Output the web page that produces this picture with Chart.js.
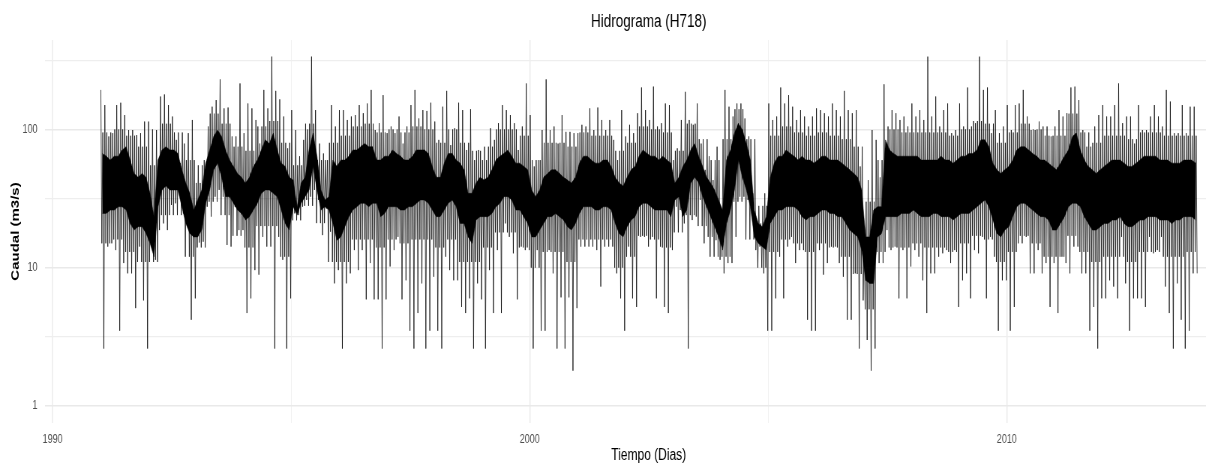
<!DOCTYPE html>
<html>
<head>
<meta charset="utf-8">
<title>Hidrograma (H718)</title>
<script src="https://cdn.jsdelivr.net/npm/chart.js@4.4.1/dist/chart.umd.min.js"></script>
<style>
  html, body { margin: 0; padding: 0; overflow: hidden; background: #ffffff; width: 1206px; height: 466px; }
  #wrap { position: absolute; left: 0; top: 0; width: 1675px; height: 466px; transform: scaleX(0.75); transform-origin: 0 0; }
  canvas { display: block; }
</style>
</head>
<body>
<div id="wrap"><canvas id="c" width="1675" height="466"></canvas></div>
<script>
// ---- data: values (1991-01 .. 2013-12) ----
const startYear = 1991;

// highest daily flow seen in each month (m3/s)
const monthlyHigh = [
  193,150,89,94,150,156,127,99,99,91,94,114,
  114,100,99,173,179,150,124,84,57,79,94,117,
  41,41,60,105,146,163,230,142,144,89,89,215,
  94,154,142,117,79,193,142,336,190,165,124,73,
  138,99,64,84,100,336,138,79,67,60,150,105,
  138,138,117,124,127,150,131,154,193,99,111,177,
  94,105,94,124,79,105,150,193,120,138,136,156,
  114,84,146,190,77,102,156,138,71,140,60,71,
  60,60,102,84,111,150,138,127,111,71,105,215,
  127,54,60,99,230,99,105,79,127,96,96,94,
  94,108,105,142,99,144,117,99,117,84,60,138,
  89,108,94,131,201,138,117,204,105,111,154,150,
  60,73,117,187,117,108,154,79,51,64,43,75,
  26,193,146,124,154,154,120,89,34.5,20.9,20.9,34.5,
  154,117,124,201,154,177,146,117,138,124,105,124,
  142,138,131,124,154,138,124,190,138,131,138,54,
  16.7,43,99,84,45,212,105,138,131,117,124,105,
  154,124,138,117,336,124,173,105,138,154,94,99,
  154,105,201,105,111,336,193,201,94,138,94,105,
  150,99,150,154,193,124,99,99,114,105,105,89,
  105,138,124,131,201,204,163,99,75,75,105,127,
  150,124,124,150,215,111,124,124,79,150,99,99,
  124,150,124,105,193,159,94,94,150,94,146,146
];

// lowest daily flow seen in each month (m3/s)
const monthlyLow = [
  2.6,14.2,15,13.4,3.5,10.8,9.1,9.1,5.1,14.2,5.8,2.6,
  14.2,11.4,18.7,20.9,18.7,28.4,29.2,34.5,24.7,20.9,4.2,6.0,
  15.2,15.4,27.6,23.4,32.6,36.5,32.6,14.6,14.2,27.6,18.7,18.7,
  4.7,6.0,9.6,8.9,16.7,14.2,14.2,2.6,16.7,11.4,2.6,6.0,
  24.7,24,27.6,30.9,32.6,36.5,30.9,17.2,26.8,18.2,7.7,9.6,
  2.6,7.7,9.1,13.4,9.6,13.4,5.9,10.8,5.9,5.9,2.6,5.9,
  10.2,13.4,16.7,5.9,8.1,3.5,2.6,4.7,7.7,2.6,3.5,8.6,
  3.5,2.6,12,9.6,8.1,8.1,5.2,4.7,6.0,2.6,7.7,5.9,
  2.6,9.6,4.7,13.4,4.7,20.9,16.7,12.7,5.9,14.2,13.4,13.4,
  2.6,13.4,3.5,3.5,13.4,9.1,2.6,6.1,2.6,6.1,1.8,5.1,
  14.2,14.2,14.2,14.2,13.4,7.3,14.2,14.2,14.2,9.1,6.0,3.5,
  14.2,6.0,5.2,16.7,16.7,14.2,16.7,6.0,14.2,5.2,4.7,13.4,
  27.6,26.1,20.9,2.6,22.1,23.4,30.9,15,16.7,16.7,15.8,11.4,
  9.1,10.8,10.8,16.7,32.6,32.6,30.9,24.7,13.4,14.2,9.1,3.5,
  3.5,6.0,12,6.0,14.2,16.7,10.8,13.4,13.4,4.2,3.5,3.5,
  13.4,8.9,10.8,14.2,14.2,10.8,8.6,4.2,4.2,9.1,2.6,5.8,
  3.0,1.8,2.6,10.8,10.8,18.7,13.4,14.2,6.0,13.4,6.0,10.2,
  13.4,12,8.1,4.7,9.1,9.1,12,12.7,13.4,10.8,13.4,5.2,
  8.1,9.1,6.0,13.4,12.7,16.7,6.0,16.7,12,3.5,8.1,8.1,
  3.5,5.2,15,15,16.7,9.1,9.1,13.4,9.1,10.8,5.2,10.8,
  4.7,12,10.8,9.1,14.2,14.2,9.1,9.1,3.5,5.2,2.6,6.0,
  6.0,8.1,7.3,6.0,16.7,7.7,3.5,6.0,6.0,6.0,5.2,16.7,
  12.7,13.4,16.7,7.3,4.7,2.6,7.7,4.2,2.6,3.5,9.1,9.1
];

// upper edge of the solid daily band in each month (m3/s)
const coreHigh = [
  67,64,60,64,64,71,75,60,48,45,48,45,
  34.5,23.4,60,71,75,71,71,67,51,41,34.5,26.1,
  31,36.5,57,71,89,99,89,71,60,54,48,45,
  41,45,54,60,71,84,79,94,71,57,54,45,
  43,27.6,41,45,71,94,64,36.5,30.9,32.6,60,54,
  60,60,64,71,71,75,79,75,75,60,60,64,
  64,71,67,64,60,60,64,71,71,71,67,54,
  45,45,57,67,67,60,57,51,34.5,34.5,41,45,
  43,45,51,60,64,67,71,64,57,57,54,51,
  36.5,32.6,36.5,45,48,51,51,48,45,43,41,45,
  57,64,64,60,57,57,60,60,54,45,41,39,
  45,51,54,64,71,67,64,64,60,64,60,57,
  41,45,54,60,71,79,64,54,45,41,36.5,30.9,
  26.1,60,71,94,111,99,79,60,26.1,20.9,19.8,23.4,
  45,57,64,64,71,67,64,60,64,60,60,57,
  60,64,64,60,60,60,57,54,51,48,45,36.5,
  16.7,16.7,26.1,27.6,27.6,84,71,67,64,64,64,64,
  64,64,60,60,60,60,60,64,60,60,57,60,
  64,64,67,67,71,84,84,75,57,51,48,51,
  54,60,71,75,75,71,67,64,60,60,57,54,
  51,57,64,71,89,94,71,60,54,51,48,51,
  54,57,60,60,60,57,54,54,57,60,64,64,
  64,64,60,60,60,57,57,57,60,60,60,57
];

// lower edge of the solid daily band in each month (m3/s)
const coreLow = [
  24.7,24.7,26.1,26.1,27.6,27.6,26.1,20.9,18.7,19.8,19.8,17.7,
  15,12,27.6,36.5,39,36.5,36.5,36.5,27.6,20.9,17.7,16.7,
  16.7,18.7,29.2,36.5,51,57,45,32.6,32.6,29.2,26.1,24.7,
  22.1,23.4,26.1,29.2,34.5,36.5,36.5,34.5,32.6,26.1,20.9,18.7,
  27.6,24,29.2,32.6,36.5,54,36.5,26.1,27.6,26.1,20.9,15.8,
  16.7,19.8,23.4,26.1,27.6,29.2,29.2,27.6,29.2,29.2,23.4,24.7,
  27.6,27.6,27.6,26.1,26.1,27.6,27.6,29.2,30.9,30.9,29.2,26.1,
  23.4,23.4,26.1,29.2,30.9,27.6,20.9,20.9,16.7,15,22.1,23.4,
  23.4,23.4,24.7,27.6,29.2,32.6,32.6,30.9,26.1,26.1,23.4,20.9,
  16.7,16.7,18.7,20.9,23.4,23.4,24.7,23.4,22.1,19.8,18.7,20.9,
  24.7,27.6,27.6,27.6,26.1,26.1,27.6,27.6,26.1,20.9,17.7,16.7,
  19.8,22.1,23.4,27.6,29.2,29.2,27.6,26.1,26.1,26.1,26.1,23.4,
  30.9,32.6,23.4,26.1,41,45,41,32.6,27.6,23.4,19.8,16.7,
  13.4,20.9,26.1,36.5,60,45,36.5,27.6,16.7,15,14.2,13.4,
  20.9,23.4,26.1,26.1,27.6,27.6,27.6,26.1,23.4,22.1,23.4,23.4,
  24.7,26.1,26.1,24.7,24.7,23.4,23.4,20.9,18.7,17.7,16.7,13.4,
  8.1,7.7,7.7,16.7,17.7,23.4,23.4,23.4,23.4,24.7,24.7,24.7,
  26.1,24.7,23.4,23.4,23.4,24.7,24.7,23.4,23.4,23.4,22.1,23.4,
  24.7,24.7,24.7,26.1,27.6,29.2,30.9,27.6,22.1,17.7,16.7,18.7,
  19.8,23.4,27.6,29.2,29.2,27.6,26.1,24.7,23.4,23.4,22.1,18.7,
  18.7,20.9,23.4,27.6,29.2,29.2,27.6,23.4,20.9,18.7,18.7,19.8,
  20.9,20.9,22.1,22.1,23.4,20.9,19.8,19.8,20.9,22.1,22.1,23.4,
  23.4,23.4,22.1,22.1,22.1,20.9,22.1,22.1,23.4,23.4,23.4,22.1
];

// typical upper reach of the frequent (non-extreme) daily peaks, per quarter (m3/s)
const fringeHigh = [
  95,100,90,75,
  55,110,95,60,
  55,130,110,75,
  70,105,115,80,
  55,110,60,80,
  90,105,110,95,
  100,95,105,100,
  80,100,80,70,
  75,100,100,90,
  60,80,80,75,
  95,90,90,70,
  80,105,100,95,
  70,110,85,60,
  85,140,85,28,
  90,105,95,90,
  95,90,85,75,
  30,60,100,95,
  95,95,95,90,
  100,115,110,80,
  95,110,100,90,
  90,130,95,80,
  90,90,85,95,
  95,90,90,90
];

// typical lower reach of the frequent (non-extreme) daily dips, per quarter (m3/s)
const fringeLow = [
  15,16,13,11,
  11,24,24,12,
  14,30,24,17,
  14,20,20,12,
  22,28,21,11,
  11,16,16,14,
  16,15,16,16,
  14,16,11,11,
  14,18,18,14,
  10,13,13,11,
  16,16,16,10,
  12,17,16,14,
  18,24,20,12,
  12,30,16,10,
  13,16,15,13,
  15,14,12,9,
  5,13,14,14,
  15,14,14,13,
  15,17,16,11,
  13,17,15,12,
  12,17,13,11,
  12,12,11,13,
  13,12,12,13
];

// ---- axis ticks ----
const xMajorTicks = [1990, 2000, 2010];
const xMinorTicks = [1995, 2005, 2015];
const yMajorTicks = [1, 10, 100];
const yMinorTicks = [3.1623, 31.623, 316.23];

const chartTitle = 'Hidrograma (H718)';
const xTitle = 'Tiempo (Dias)';
const yTitle = 'Caudal (m3/s)';

// ---- build library data from the arrays ----
const monthTime = (i, frac) => startYear + (i + frac) / 12;
const lowBand = coreLow.map((v, i) => ({ x: monthTime(i, 0.5), y: v }));
const highBand = coreHigh.map((v, i) => ({ x: monthTime(i, 0.5), y: v }));
// trace through each month: extreme peak, common dip, common peak, extreme dip
const dailyTrace = [];
monthlyHigh.forEach((v, i) => {
  const q = Math.floor(i / 3);
  dailyTrace.push({ x: monthTime(i, 0.125), y: v });
  dailyTrace.push({ x: monthTime(i, 0.375), y: fringeLow[q] });
  dailyTrace.push({ x: monthTime(i, 0.625), y: fringeHigh[q] });
  dailyTrace.push({ x: monthTime(i, 0.875), y: monthlyLow[i] });
});

const FONT = "'Liberation Sans', Arial, Helvetica, sans-serif";
Chart.defaults.font.family = FONT;

const isMajor = (list, v) => list.some(t => Math.abs(t - v) < 1e-6);

new Chart(document.getElementById('c'), {
  type: 'line',
  data: {
    datasets: [
      { data: dailyTrace, borderColor: '#000000', borderWidth: 0.75, pointRadius: 0, fill: false, tension: 0 },
      { data: lowBand, borderColor: '#000000', borderWidth: 0.5, pointRadius: 0, fill: false, tension: 0 },
      { data: highBand, borderColor: '#000000', borderWidth: 0.5, pointRadius: 0, fill: '-1', backgroundColor: '#000000', tension: 0 }
    ]
  },
  options: {
    responsive: false,
    animation: false,
    events: [],
    devicePixelRatio: 1,
    layout: { padding: { left: 0, right: 5, top: 0, bottom: 0 } },
    plugins: {
      legend: { display: false },
      tooltip: { enabled: false },
      title: {
        display: true,
        text: chartTitle,
        fullSize: false,
        color: '#000000',
        font: { family: FONT, size: 18, weight: 'normal', lineHeight: 1.2 },
        padding: { top: 11.2, bottom: 7.2 }
      }
    },
    scales: {
      x: {
        type: 'linear',
        min: 1989.84,
        max: 2015.15,
        afterBuildTicks: s => { s.ticks = xMajorTicks.concat(xMinorTicks).sort((a, b) => a - b).map(v => ({ value: v })); },
        afterFit: s => { s.height = 43; },
        border: { display: false },
        grid: {
          drawTicks: false,
          color: c => (c.tick && isMajor(xMajorTicks, c.tick.value)) ? '#e9e9e9' : '#f2f2f2',
          lineWidth: c => (c.tick && isMajor(xMajorTicks, c.tick.value)) ? 1.4 : 1.0
        },
        ticks: {
          autoSkip: false,
          maxRotation: 0,
          padding: 9,
          color: '#4d4d4d',
          font: { family: FONT, size: 12 },
          callback: v => isMajor(xMajorTicks, v) ? String(v) : ''
        },
        title: {
          display: true,
          text: xTitle,
          color: '#000000',
          font: { family: FONT, size: 16, weight: 'normal', lineHeight: 1.2 },
          padding: { top: 0, bottom: 1 }
        }
      },
      y: {
        type: 'logarithmic',
        min: 0.7535,
        max: 443,
        afterBuildTicks: s => { s.ticks = yMajorTicks.concat(yMinorTicks).sort((a, b) => a - b).map(v => ({ value: v })); },
        afterFit: s => { s.width = 60; },
        border: { display: false },
        grid: {
          drawTicks: false,
          color: c => (c.tick && isMajor(yMajorTicks, c.tick.value)) ? '#e9e9e9' : '#eeeeee',
          lineWidth: c => (c.tick && isMajor(yMajorTicks, c.tick.value)) ? 1.6 : 1.3
        },
        ticks: {
          autoSkip: false,
          padding: 10,
          color: '#4d4d4d',
          font: { family: FONT, size: 12 },
          callback: v => isMajor(yMajorTicks, v) ? String(v) : ''
        },
        title: {
          display: true,
          text: yTitle,
          color: '#000000',
          font: { family: FONT, size: 15, weight: 'bold', lineHeight: 1.2 },
          padding: { top: 12, bottom: 0 }
        }
      }
    }
  }
});
</script>
</body>
</html>
